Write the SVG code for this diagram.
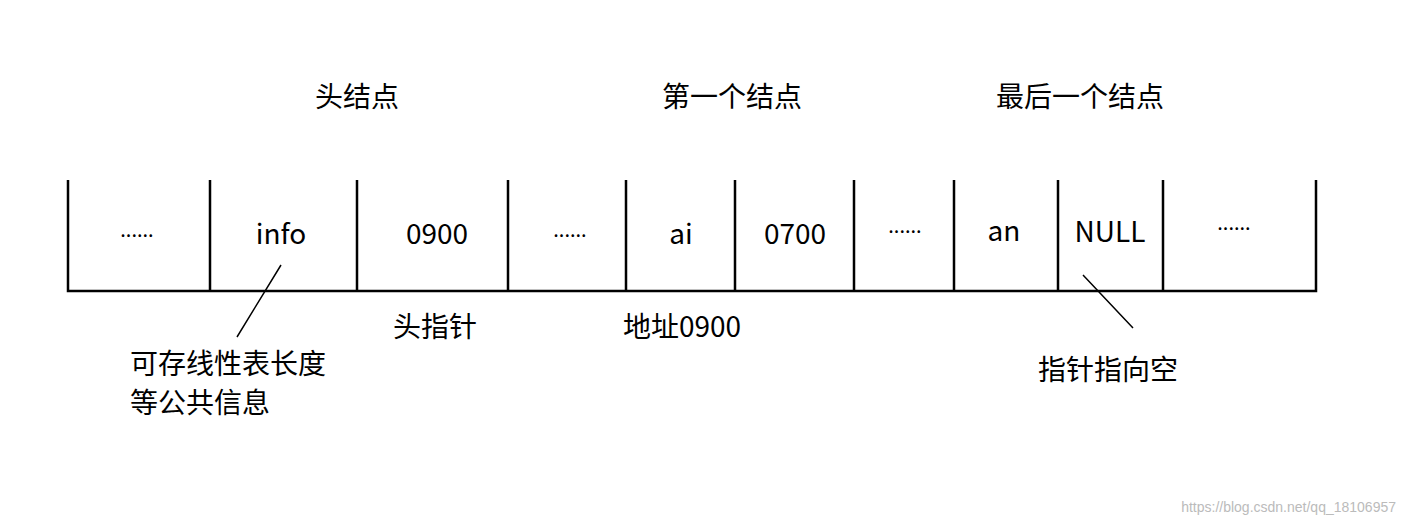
<svg xmlns="http://www.w3.org/2000/svg" width="1406" height="524" viewBox="0 0 1406 524">
<style>
text{font-family:"Noto Sans CJK SC","Noto Sans",sans-serif;fill:#000}
.t{font-size:28px}
.c{font-size:28px;text-anchor:middle}
.d{font-size:20px;text-anchor:middle}
.l{stroke:#000;stroke-width:2.5;fill:none}
.p{stroke:#000;stroke-width:1.5;fill:none}
</style>
<rect width="1406" height="524" fill="#fff"/>
<g id="connectors">
<path class="l" d="M68 180V291H1316V180M210 180V291M357 180V291M508 180V291M626 180V291M735 180V291M854 180V291M954 180V291M1058 180V291M1163 180V291"/>
<path class="p" d="M281 265L237 337M1083 275L1133 328"/>
</g>
<g id="titles">
<text class="c" x="357" y="107">头结点</text>
<text class="c" x="732" y="107">第一个结点</text>
<text class="c" x="1080" y="107">最后一个结点</text>
</g>
<g id="cells">
<text class="d" x="137" y="237">......</text>
<text class="c" x="281" y="244">info</text>
<text class="c" x="437" y="244">0900</text>
<text class="d" x="570" y="237">......</text>
<text class="c" x="681" y="244">ai</text>
<text class="c" x="795" y="244">0700</text>
<text class="d" x="905" y="233">......</text>
<text class="c" x="1004" y="241">an</text>
<text class="c" x="1110" y="242">NULL</text>
<text class="d" x="1234" y="230">......</text>
</g>
<g id="labels">
<text class="c" x="435" y="337">头指针</text>
<text class="c" x="682" y="337">地址0900</text>
<text class="t" x="130" y="374">可存线性表长度</text>
<text class="t" x="130" y="413">等公共信息</text>
<text class="c" x="1108" y="380">指针指向空</text>
</g>
<text x="1396" y="512" style="font-size:14px;fill:#bbb;text-anchor:end;font-family:'Liberation Sans',sans-serif">https://blog.csdn.net/qq_18106957</text>
</svg>
